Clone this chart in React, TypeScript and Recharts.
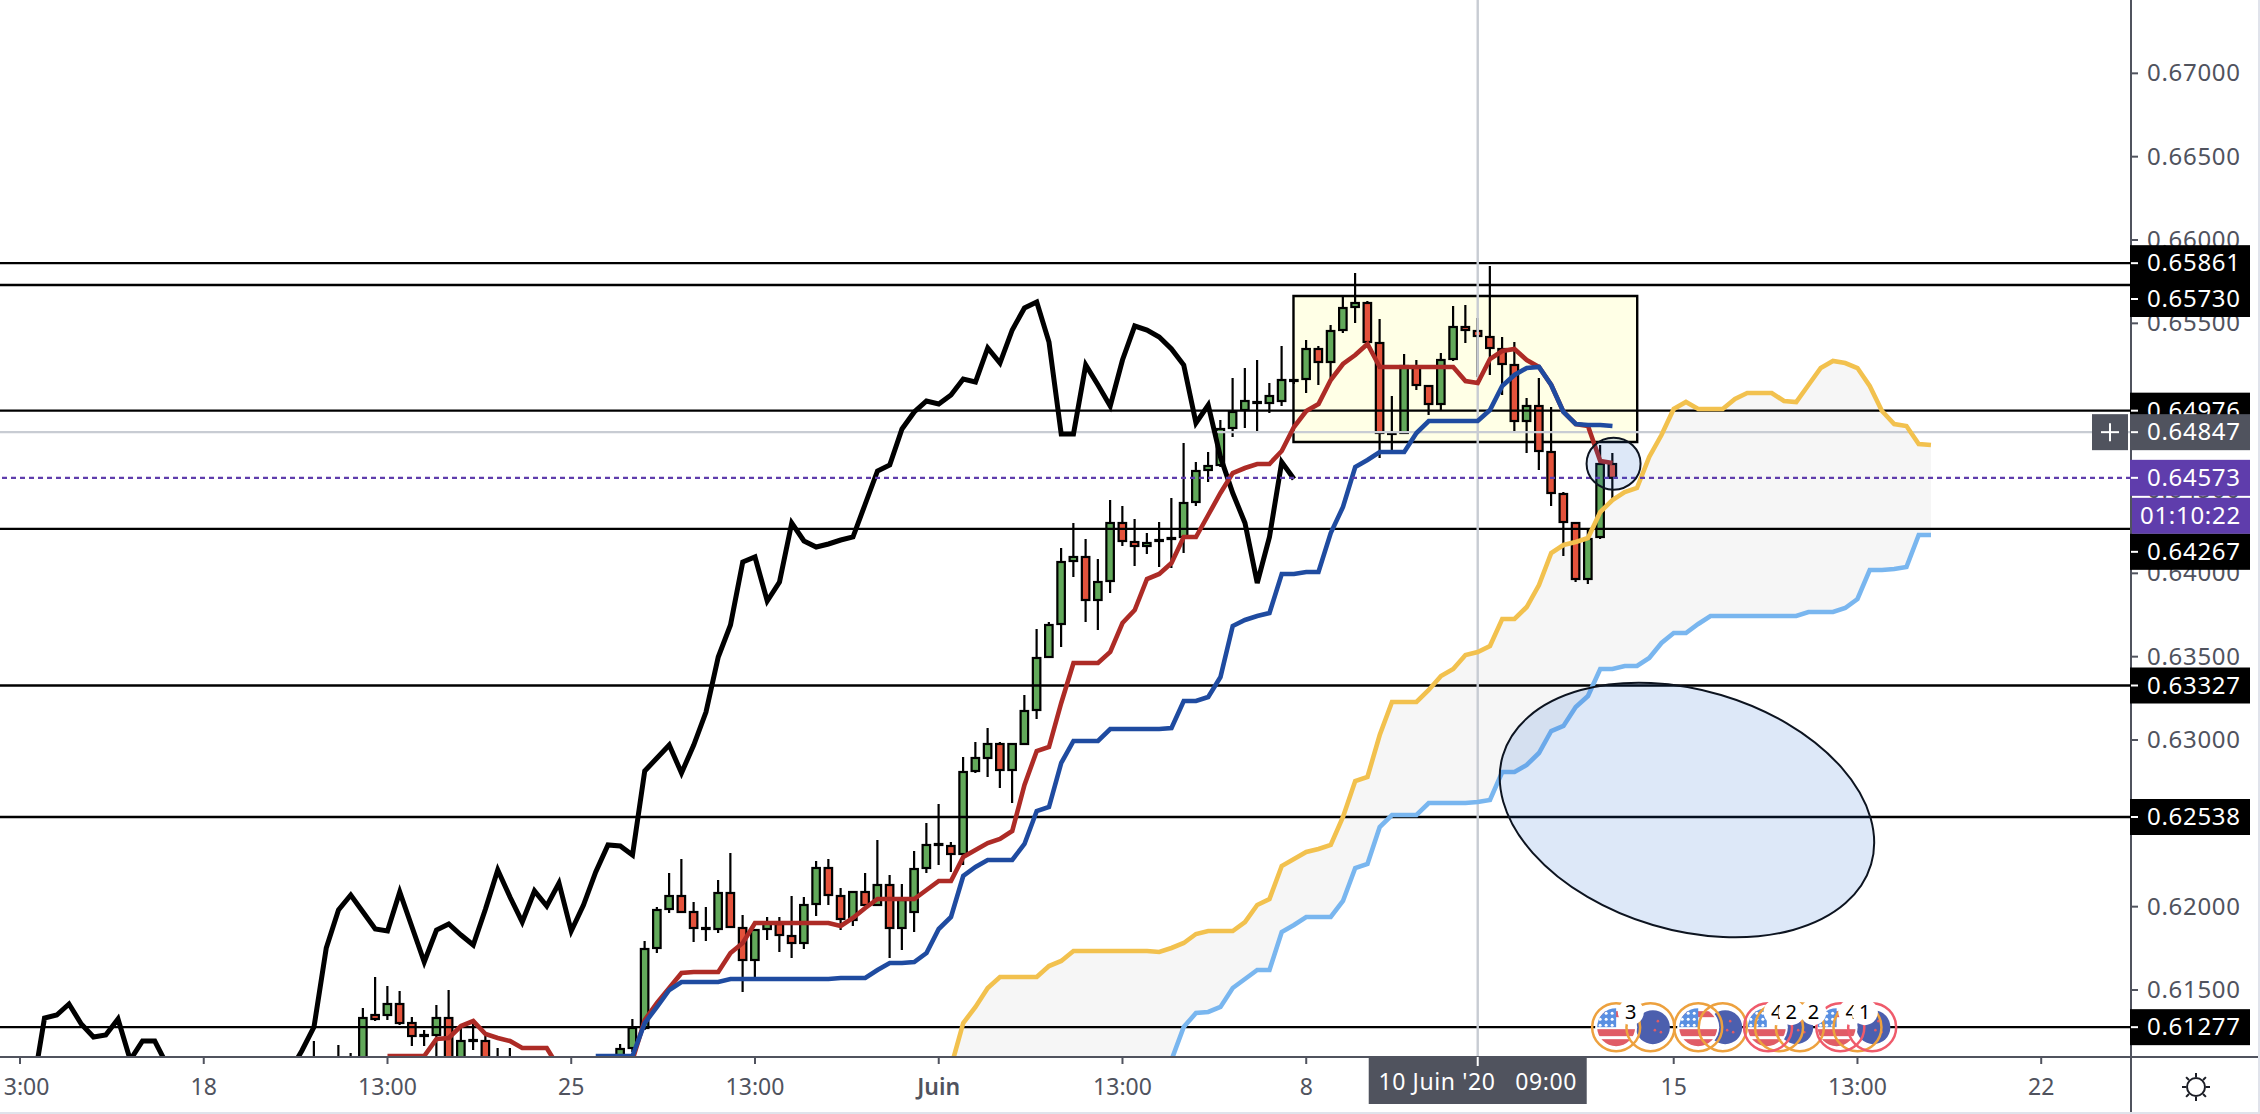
import React from 'react';
import { ComposedChart, XAxis, YAxis, Bar, Line, Area, ReferenceLine, ReferenceArea, ReferenceDot } from 'recharts';

// ---------- axes ----------
const timeTickIndex = [0, 15, 30, 45, 60, 75, 90, 105, 120, 135, 150, 165, 119];
const timeTickLabels = ['13:00', '18', '13:00', '25', '13:00', 'Juin', '13:00', '8', '13:00', '15', '13:00', '22', "10 Juin '20   09:00"];
const priceTicks = [0.67, 0.665, 0.66, 0.655, 0.65, 0.645, 0.64, 0.635, 0.63, 0.625, 0.62, 0.615];
const tagPrices = [0.65861, 0.6573, 0.64976, 0.64847, 0.64573, 0.64267, 0.63327, 0.62538, 0.61277];
const levelPrices = [0.65861, 0.6573, 0.64976, 0.64267, 0.63327, 0.62538, 0.61277];
const currentPrice = 0.64573;
const crosshairPrice = 0.64847;
const crosshairIndex = 119;
const countdown = '01:10:22';

// ---------- candles ----------
const candleIndex = [24, 26, 27, 28, 29, 30, 31, 32, 33, 34, 35, 36, 37, 38, 39, 40, 49, 50, 51, 52, 53, 54, 55, 56, 57, 58, 59, 60, 61, 62, 63, 64, 65, 66, 67, 68, 69, 70, 71, 72, 73, 74, 75, 76, 77, 78, 79, 80, 81, 82, 83, 84, 85, 86, 87, 88, 89, 90, 91, 92, 93, 94, 95, 96, 97, 98, 99, 100, 101, 102, 103, 104, 105, 106, 107, 108, 109, 110, 111, 112, 113, 114, 115, 116, 117, 118, 119, 120, 121, 122, 123, 124, 125, 126, 127, 128, 129, 130];
const highs = [.61194, .6117, .61122, .61392, .61578, .61524, .61494, .61338, .6126, .6141, .615, .61278, .61296, .61236, .61152, .61152, .61176, .61326, .61794, .61998, .62202, .62286, .62028, .61998, .6216, .62322, .6195, .61866, .61938, .61938, .62064, .62058, .62274, .62286, .62112, .62088, .62202, .624, .6219, .62136, .62334, .62502, .62616, .62388, .62898, .62988, .63072, .62988, .62976, .6327, .63666, .63708, .64152, .64302, .64206, .64086, .6444, .64404, .64326, .64242, .64308, .64452, .64782, .64668, .64728, .6492, .65172, .65232, .6528, .65142, .65364, .65166, .654, .65364, .6549, .65658, .65802, .65634, .65526, .65064, .65316, .6528, .6513, .65322, .65604, .6561, .65532, .65844, .65418, .65388, .65052, .65172, .64998, .64488, .64302, .6426, .6477, .64722];
const opens = [.6099, .6102, .6099, .6105, .6135, .6135, .61416, .61302, .6123, .6123, .61332, .61068, .612, .61194, .6099, .6093, .6105, .61152, .61272, .61752, .61986, .62064, .61968, .61872, .61866, .62082, .61872, .6168, .61866, .61896, .61824, .61782, .62016, .62232, .62064, .6192, .62088, .6201, .6213, .61872, .61968, .62232, .62376, .62364, .62316, .62814, .62892, .62976, .6282, .62976, .6318, .63498, .63696, .64074, .64098, .6384, .63954, .64302, .64188, .64164, .642, .64212, .64218, .64428, .6462, .6465, .64872, .6498, .65028, .65022, .65034, .6516, .65166, .65346, .65268, .6546, .65598, .65622, .65382, .64842, .64842, .65238, .65124, .65016, .65286, .65478, .65454, .65418, .65346, .6525, .64914, .65004, .64728, .64476, .64302, .63966, .64218, .64656];
const closes = [.6102, .61068, .6105, .61332, .61326, .61416, .61302, .61224, .61224, .61332, .61068, .61194, .61194, .6105, .6105, .6099, .61146, .61272, .61746, .6198, .62064, .61968, .61872, .61866, .62082, .61878, .6168, .6186, .61902, .6183, .61782, .6201, .62232, .6207, .61926, .62088, .6201, .6213, .61872, .6204, .62226, .6237, .6237, .62316, .62808, .62892, .62976, .6282, .62976, .63174, .63492, .6369, .64068, .64098, .6384, .63948, .64302, .64194, .64164, .64182, .64194, .64206, .64422, .64614, .64644, .64866, .64968, .65034, .65022, .65064, .6516, .65154, .65346, .65268, .65454, .65592, .65622, .65388, .64842, .64836, .65244, .6513, .65016, .6528, .65478, .6546, .65424, .65352, .65256, .64914, .65004, .64734, .64482, .64308, .63966, .64206, .64656, .64573];
const lows = [.6093, .6096, .6093, .6102, .61314, .6132, .6129, .61164, .61164, .61068, .6099, .6102, .6114, .6099, .6093, .6087, .6099, .61128, .6126, .61722, .61962, .61962, .61788, .61794, .61842, .61872, .61488, .61578, .618, .61728, .61692, .61746, .61944, .6201, .6186, .61884, .61998, .62004, .61692, .6174, .61848, .62202, .6225, .62208, .6225, .62802, .62778, .62712, .62622, .6297, .63126, .63492, .63558, .63978, .63708, .6366, .63882, .64164, .64044, .64116, .64038, .64032, .64122, .64404, .64548, .64638, .64818, .64872, .64842, .64962, .65004, .65136, .65082, .6513, .65172, .65442, .65502, .65382, .64692, .6474, .64836, .651, .6495, .6498, .65274, .65382, .65178, .6519, .6507, .64854, .64722, .6462, .64404, .64104, .63948, .63936, .64206, .6444];

// ---------- ichimoku lines ----------
const laggingStart = 1;
const laggingSpan = [.60888, .61332, .6135, .61416, .61296, .61218, .6123, .61326, .6108, .61194, .61194, .6105, .6082, .6078, .6076, .608, .6084, .6078, .6075, .6079, .6083, .61008, .61134, .61278, .61752, .6198, .6207, .61968, .61866, .61854, .62088, .61878, .61668, .6186, .61896, .6183, .6177, .61986, .6222, .62058, .61908, .62094, .62004, .62142, .61854, .6201, .62208, .6237, .62364, .6231, .62814, .62892, .6297, .62802, .6297, .63168, .63498, .6369, .64068, .64098, .63834, .63948, .64302, .64194, .64158, .64176, .642, .64218, .64416, .64614, .6465, .64866, .64968, .65034, .65016, .6507, .65166, .65148, .65352, .65262, .6546, .65592, .65628, .65388, .64836, .64836, .6525, .6513, .65004, .6528, .65484, .6546, .65418, .65346, .6525, .64902, .6501, .64698, .64482, .64302, .63942, .64218, .64668, .64566];
const conversionStart = 30;
const conversionLine = [.61104, .61104, .61104, .61104, .61206, .61212, .61284, .61314, .61236, .61212, .61194, .61152, .61152, .61152, .61032, .6095, .609, .609, .6093, .6098, .6108, .6132, .61422, .61512, .61602, .61608, .61608, .61608, .61722, .61782, .61902, .61902, .61902, .61902, .61902, .61902, .61902, .61884, .61932, .61992, .62046, .62046, .62046, .62046, .621, .62154, .62154, .62298, .6234, .62382, .62406, .62454, .6273, .62934, .62958, .63222, .63462, .63462, .63462, .63528, .63702, .6378, .63966, .63996, .64062, .64218, .64218, .6435, .64482, .64602, .64632, .64656, .64656, .64734, .64878, .64974, .65016, .6516, .65256, .6531, .65376, .65238, .65238, .65238, .65238, .65238, .65238, .65238, .65154, .65142, .65286, .65334, .65346, .6528, .65238, .6513, .64968, .64896, .64884, .64674, .64662];
const baseStart = 47;
const baseLine = [.61104, .61104, .61104, .61104, .61302, .61398, .615, .61548, .61548, .61548, .61548, .61566, .61566, .61566, .61566, .61566, .61566, .61566, .61566, .61566, .61572, .61572, .61572, .6162, .61662, .61662, .61668, .61722, .61866, .61938, .62184, .62238, .6228, .6228, .6228, .62376, .62574, .62598, .62862, .62994, .62994, .62994, .63066, .63066, .63066, .63066, .63066, .63072, .63234, .63234, .63258, .63378, .63684, .6372, .63744, .63762, .63996, .63996, .64008, .64008, .64242, .64398, .64638, .6468, .64728, .64728, .64728, .64842, .64914, .64914, .64914, .64914, .64914, .6498, .65124, .6519, .65232, .65238, .6513, .64968, .64896, .6489, .6489, .64884];
const cloudStart = 76;
const leadingSpanA = [.61038, .61302, .61398, .61512, .61578, .61578, .61578, .61578, .61644, .61674, .61734, .61734, .61734, .61734, .61734, .61734, .61734, .61728, .61752, .61782, .61836, .61854, .61854, .61854, .61908, .6201, .62046, .62244, .62286, .62328, .62346, .6237, .62538, .62754, .62778, .6303, .63228, .63228, .63228, .633, .63384, .63426, .6351, .63528, .63564, .63726, .63726, .63798, .6393, .64122, .6417, .64188, .64212, .64368, .6444, .64488, .64512, .64698, .6483, .64986, .65028, .64986, .64986, .64986, .65046, .65082, .65082, .65082, .65034, .65028, .6513, .65232, .65274, .65262, .65232, .65124, .64974, .64896, .64884, .64776, .6477];
const leadingSpanB = [.605, .605, .6052, .6052, .6056, .6056, .6056, .606, .606, .606, .6064, .6064, .6064, .6066, .6068, .607, .6074, .6086, .6108, .61278, .61362, .61368, .61398, .61512, .61566, .6162, .6162, .61848, .6189, .61938, .61938, .61938, .62034, .62232, .62256, .62478, .6255, .6255, .6255, .62622, .62622, .62622, .62622, .62628, .6264, .62808, .62808, .6285, .62922, .63054, .63084, .63198, .63264, .63426, .63426, .63444, .63444, .63492, .63582, .63642, .63642, .63696, .63744, .63744, .63744, .63744, .63744, .63744, .63744, .63744, .63768, .63768, .63768, .63792, .63846, .6402, .6402, .64026, .64038, .6423, .6423];

// ---------- annotations ----------
const boxIndexRange = [103.96, 132.02];
const boxPriceRange = [0.64788, 0.65664];
const bigEllipseAt = { i: 136.08, price: 0.6258 };
const smallCircleAt = { i: 130.09, price: 0.64658 };
const eventPrice = 0.61277;
const flagEvents = [130.3, 137, 142.6, 148.3];
const moonEvents = [133.3, 139.2, 145, 151.3];
const orangeRings = [130.3, 133.1, 137, 139, 143.6, 145.3, 150];
const redRings = [142.7, 148.6, 151.2];
const bubbleEvents = [{ i: 131.5, t: '3' }, { i: 143.4, t: '4' }, { i: 144.6, t: '2' }, { i: 146.4, t: '2' }, { i: 149.5, t: '4' }, { i: 150.6, t: '1' }];

// ---------- table ----------
type Row = Record<string, any>;
const rows: Row[] = [];
for (let i = 1; i <= 156; i++) rows.push({ i });
const at = (i: number) => rows[i - 1];
candleIndex.forEach((i, k) => {
  Object.assign(at(i), { open: opens[k], close: closes[k], high: highs[k], low: lows[k], range: [lows[k], highs[k]] });
});
laggingSpan.forEach((v, k) => { at(laggingStart + k).lag = v; });
conversionLine.forEach((v, k) => { at(conversionStart + k).conv = v; });
baseLine.forEach((v, k) => { at(baseStart + k).base = v; });
leadingSpanA.forEach((v, k) => {
  const r = at(cloudStart + k);
  r.spanA = v;
  r.spanB = leadingSpanB[k];
  r.cloud = [leadingSpanB[k], v];
});

// ---------- style ----------
const FONT = '"Noto Sans", sans-serif';
const AXIS = '#50535e';
const PURPLE = '#5f3dac';
const GREY_LINE = '#c8ccd3';
const UP = '#62a95a';
const DOWN = '#e4523b';

const Candle = (p: any) => {
  const { x, y, width, height, payload } = p;
  if (!payload || payload.open == null) return null;
  const cx = x + width / 2;
  const span = payload.high - payload.low;
  const yOf = (v: number) => y + ((payload.high - v) / span) * height;
  const top = yOf(Math.max(payload.open, payload.close));
  const bottom = yOf(Math.min(payload.open, payload.close));
  const up = payload.close >= payload.open;
  return (
    <g>
      <line x1={cx} x2={cx} y1={y} y2={y + height} stroke="#000" strokeWidth={2.2} />
      <rect x={cx - 3.75} y={top} width={7.5} height={Math.max(bottom - top, 1)} fill={up ? UP : DOWN} stroke="#000" strokeWidth={2.2} />
    </g>
  );
};

const PriceTick = (p: any) => {
  const { x, y, payload } = p;
  const v = payload.value;
  const idx = tagPrices.indexOf(v);
  const mono = { fontFamily: FONT, fontSize: 24, letterSpacing: 0.7 };
  if (idx < 0) {
    return (
      <g>
        <line x1={x} x2={x + 7} y1={y} y2={y} stroke={AXIS} strokeWidth={2} />
        <text x={x + 16} y={y + 8} fill={AXIS} {...mono}>{v.toFixed(5)}</text>
      </g>
    );
  }
  const shift = v === 0.6573 ? 14 : v === 0.64267 ? 23 : 0;
  const fill = v === crosshairPrice ? AXIS : v === currentPrice ? PURPLE : '#000';
  return (
    <g>
      <rect x={x - 1} y={y + shift - 18} width={120} height={36} fill={fill} />
      <line x1={x} x2={x + 7} y1={y + shift} y2={y + shift} stroke="#fff" strokeWidth={2} />
      <text x={x + 16} y={y + shift + 8} fill="#fff" {...mono}>{v.toFixed(5)}</text>
      {v === currentPrice && (
        <g>
          <rect x={x + 1} y={y + 20} width={118} height={36} fill={PURPLE} />
          <text x={x + 9} y={y + 46} fill="#fff" {...mono}>{countdown}</text>
        </g>
      )}
      {v === crosshairPrice && (
        <g>
          <rect x={x - 39} y={y - 18} width={36} height={36} fill={AXIS} />
          <line x1={x - 30} x2={x - 12} y1={y} y2={y} stroke="#fff" strokeWidth={2} />
          <line x1={x - 21} x2={x - 21} y1={y - 9} y2={y + 9} stroke="#fff" strokeWidth={2} />
        </g>
      )}
    </g>
  );
};

const TimeTick = (p: any) => {
  const { x, y, payload } = p;
  const k = timeTickIndex.indexOf(payload.value);
  const label = timeTickLabels[k];
  if (payload.value === crosshairIndex) {
    return (
      <g>
        <rect x={x - 109} y={y} width={218} height={47} fill={AXIS} />
        <line x1={x} x2={x} y1={y} y2={y + 9} stroke="#fff" strokeWidth={2} />
        <text x={x} y={y + 33} fill="#fff" textAnchor="middle" xmlSpace="preserve" fontFamily={FONT} fontSize={23} letterSpacing={0.6}>{label}</text>
      </g>
    );
  }
  return (
    <g>
      <line x1={x} x2={x} y1={y} y2={y + 7} stroke={AXIS} strokeWidth={2} />
      <text x={x} y={y + 38} fill={AXIS} textAnchor="middle" fontFamily={FONT} fontSize={23} fontWeight={label === 'Juin' ? 600 : 400}>{label}</text>
    </g>
  );
};

const EllipseMark = (rx: number, ry: number, angle: number) => (p: any) => (
  <ellipse cx={p.cx} cy={p.cy} rx={rx} ry={ry} transform={`rotate(${angle} ${p.cx} ${p.cy})`} fill="#1e62d2" fillOpacity={0.15} stroke="#0d1420" strokeWidth={2} />
);

const FlagMark = (p: any) => {
  const { cx, cy } = p;
  const id = `flag${Math.round(cx)}`;
  return (
    <g>
      <clipPath id={id}><circle cx={cx} cy={cy} r={19} /></clipPath>
      <circle cx={cx} cy={cy} r={21} fill="#fff" />
      <g clipPath={`url(#${id})`}>
        <rect x={cx - 20} y={cy - 20} width={40} height={40} fill="#fff" />
        <rect x={cx - 20} y={cy - 16} width={40} height={6} fill="#e05c66" />
        <rect x={cx - 20} y={cy + 2} width={40} height={7} fill="#e05c66" />
        <rect x={cx - 20} y={cy + 12} width={40} height={10} fill="#e05c66" />
        <rect x={cx - 20} y={cy - 20} width={20} height={20} fill="#5a90e2" />
        {[0, 1, 2].map((a) => [0, 1, 2].map((b) => (
          <circle key={`${a}${b}`} cx={cx - 16 + a * 6} cy={cy - 14 + b * 6} r={1.5} fill="#fff" />
        )))}
      </g>
    </g>
  );
};

const MoonMark = (p: any) => (
  <g>
    <circle cx={p.cx} cy={p.cy} r={17} fill="#4c5fae" />
    <circle cx={p.cx + 5} cy={p.cy - 6} r={1.3} fill="#e05c66" />
    <circle cx={p.cx + 2} cy={p.cy + 3} r={1.3} fill="#e05c66" />
    <circle cx={p.cx + 8} cy={p.cy + 5} r={1.3} fill="#e05c66" />
  </g>
);

const RingMark = (color: string) => (p: any) => (
  <circle cx={p.cx} cy={p.cy} r={24} fill="none" stroke={color} strokeWidth={2.5} />
);

const BubbleMark = (t: string) => (p: any) => (
  <g>
    <circle cx={p.cx} cy={p.cy - 15} r={13} fill="#fff" />
    <text x={p.cx} y={p.cy - 8} textAnchor="middle" fontFamily={FONT} fontSize={20} fill="#000">{t}</text>
  </g>
);

const line = (key: string, color: string) => (
  <Line key={key} dataKey={key} stroke={color} strokeWidth={key === 'lag' ? 5 : 4.6} strokeLinejoin="miter" dot={false} activeDot={false} isAnimationActive={false} type="linear" legendType="none" />
);

export default function App() {
  return (
    <div style={{ position: 'absolute', left: 0, top: 0, width: 2260, height: 1114, background: '#e0e3eb', overflow: 'hidden' }}>
      <div style={{ width: 2258, height: 1112, background: '#fff' }}>
        <ComposedChart width={2258} height={1112} data={rows} margin={{ top: 0, right: 0, bottom: 0, left: 0 }}>
          <XAxis dataKey="i" type="number" domain={[-1.633, 172.33]} allowDataOverflow ticks={timeTickIndex} interval={0} height={55} tick={TimeTick} tickLine={false} tickSize={0} tickMargin={0} axisLine={{ stroke: AXIS, strokeWidth: 2 }} />
          <YAxis orientation="right" type="number" domain={[0.61098, 0.6744]} allowDataOverflow ticks={[...priceTicks, ...tagPrices]} interval={0} width={127} tick={PriceTick} tickLine={false} tickSize={0} tickMargin={0} axisLine={{ stroke: AXIS, strokeWidth: 2 }} />

          <ReferenceArea x1={boxIndexRange[0]} x2={boxIndexRange[1]} y1={boxPriceRange[0]} y2={boxPriceRange[1]} fill="#ffffe6" fillOpacity={1} stroke="#000" strokeWidth={2.4} />
          <Area dataKey="cloud" stroke="none" fill="#f6f6f6" fillOpacity={1} dot={false} activeDot={false} isAnimationActive={false} type="linear" />
          {levelPrices.map((v) => <ReferenceLine key={v} y={v} stroke="#000" strokeWidth={2.4} />)}
          <ReferenceLine y={crosshairPrice} stroke={GREY_LINE} strokeWidth={2.4} />
          <ReferenceLine x={crosshairIndex} stroke={GREY_LINE} strokeWidth={2.4} />

          <Bar dataKey="range" barSize={10} shape={Candle} isAnimationActive={false} />

          {line('spanA', '#f2c14e')}
          {line('spanB', '#79b6ef')}
          {line('lag', '#000000')}
          {line('conv', '#ad2b26')}
          {line('base', '#1f4ba0')}

          <ReferenceLine y={currentPrice} stroke={PURPLE} strokeWidth={2.4} strokeDasharray="5 4" />

          <ReferenceDot x={bigEllipseAt.i} y={bigEllipseAt.price} shape={EllipseMark(192, 120, 16.5)} />
          <ReferenceDot x={smallCircleAt.i} y={smallCircleAt.price} shape={EllipseMark(27, 26, 0)} />

          {moonEvents.map((i) => <ReferenceDot key={`m${i}`} x={i} y={eventPrice} shape={MoonMark} />)}
          {flagEvents.map((i) => <ReferenceDot key={`f${i}`} x={i} y={eventPrice} shape={FlagMark} />)}
          {orangeRings.map((i) => <ReferenceDot key={`o${i}`} x={i} y={eventPrice} shape={RingMark('#eda13e')} />)}
          {redRings.map((i) => <ReferenceDot key={`r${i}`} x={i} y={eventPrice} shape={RingMark('#ef5b6b')} />)}
          {bubbleEvents.map((b) => <ReferenceDot key={`b${b.i}`} x={b.i} y={eventPrice} shape={BubbleMark(b.t)} />)}
        </ComposedChart>
      </div>
      <svg width={2260} height={1114} style={{ position: 'absolute', left: 0, top: 0, pointerEvents: 'none' }}>
        <line x1={2131} x2={2258} y1={1057} y2={1057} stroke={AXIS} strokeWidth={2} />
        <line x1={2131} x2={2131} y1={1057} y2={1112} stroke={AXIS} strokeWidth={2} />
        <g transform="translate(2196 1087)" stroke="#1c1e26" strokeWidth={2} fill="none">
          <circle r={9} />
          {[0, 45, 90, 135, 180, 225, 270, 315].map((a) => (
            <line key={a} x1={0} x2={0} y1={-10} y2={-14} transform={`rotate(${a})`} />
          ))}
        </g>
      </svg>
    </div>
  );
}
